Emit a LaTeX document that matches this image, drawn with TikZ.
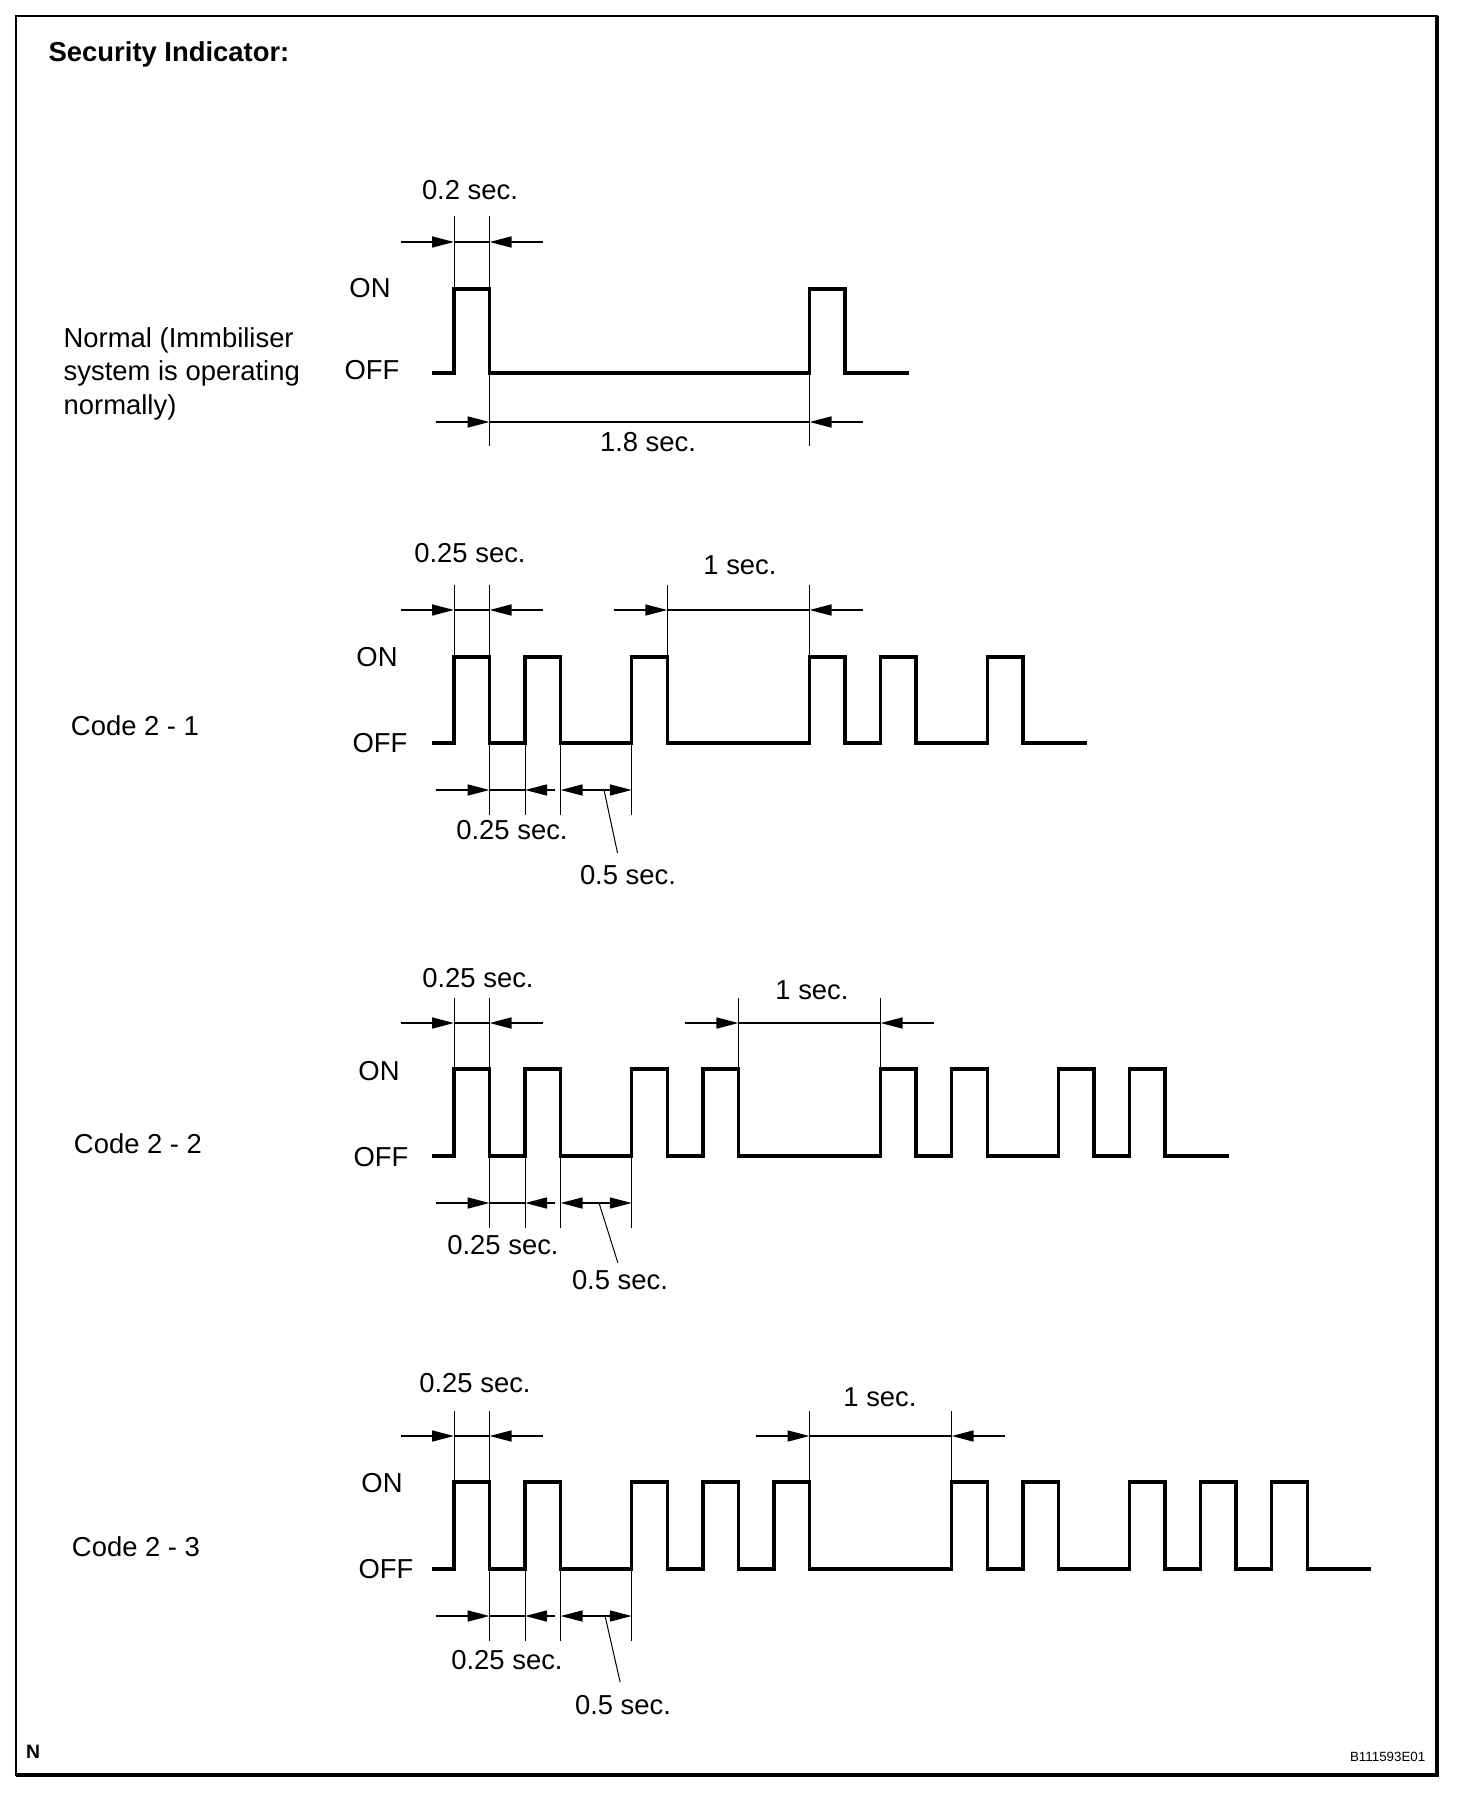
\documentclass[tikz,border=0pt]{standalone}
\usepackage{fontspec}
\setmainfont{Liberation Sans}
\usetikzlibrary{arrows.meta}
\begin{document}
\begin{tikzpicture}[x=0.1mm,y=-0.1mm]
\tikzstyle{every node}=[inner sep=0pt, font=\fontsize{7.8pt}{9.1pt}\selectfont]
\tikzstyle{wave}=[line width=0.34mm]
\tikzstyle{ext}=[line width=0.1mm]
\tikzstyle{dim}=[line width=0.16mm, >={Triangle[length=2.2mm,width=1.1mm]}]
\useasboundingbox (0,0) rectangle (1472,1794);
\draw[line width=0.25mm] (16,16) rectangle (1437,1775);
\draw[line width=0.33mm] (1437,16) -- (1437,1775) -- (16,1775);
\node[anchor=west, font=\fontsize{7.8pt}{9.1pt}\selectfont\bfseries] (title) at (48,54) {Security Indicator:};
\node[font=\fontsize{5.5pt}{6pt}\selectfont\bfseries] (n) at (33,1752) {N};
\node[anchor=east, font=\fontsize{3.8pt}{4pt}\selectfont] (figno) at (1426,1757) {B111593E01};

% Normal
\node[anchor=base west, align=left, font=\fontsize{7.8pt}{9.4pt}\selectfont] (normal) at (63,414) {Normal (Immbiliser\\system is operating\\normally)};
\node (on0) at (370,288) {ON};
\node (off0) at (372,370) {OFF};
\node (t0a) at (470,190) {0.2 sec.};
\node (t0b) at (648,442) {1.8 sec.};
\begin{scope}[shift={(454,373)}, x=3.555mm]
\draw[wave] (-0.61,0) -- (0,0) |- (1,-84) |- (10,0) |- (11,-84) |- (12.8,0);
\draw[ext] (0,-157) -- (0,0) (1,-157) -- (1,73) (10,0) -- (10,73);
\draw[dim,->] (-1.5,-131) -- (0,-131);
\draw[dim] (0,-131) -- (1,-131);
\draw[dim,->] (2.5,-131) -- (1,-131);
\draw[dim,->] (-0.5,49) -- (1,49);
\draw[dim] (1,49) -- (10,49);
\draw[dim,->] (11.5,49) -- (10,49);
\end{scope}

% Code 2 - 1
\node (code1) at (135,726) {Code 2 - 1};
\node (on1) at (377,657) {ON};
\node (off1) at (380,743) {OFF};
\node (t1a) at (470,553) {0.25 sec.};
\node (t1b) at (740,565) {1 sec.};
\node (t1c) at (512,830) {0.25 sec.};
\node (t1d) at (628,875) {0.5 sec.};
\begin{scope}[shift={(454,743)}, x=3.555mm]
\draw[wave] (-0.61,0) -- (0,0) |- (1,-86) |- (2,0) |- (3,-86) |- (5,0) |- (6,-86) |- (10,0) |- (11,-86) |- (12,0) |- (13,-86) |- (15,0) |- (16,-86) |- (17.8,0);
\draw[ext] (0,-158) -- (0,0) (1,-158) -- (1,72) (6,-158) -- (6,0) (10,-158) -- (10,0) (2,0) -- (2,72) (3,0) -- (3,72) (5,0) -- (5,72);
\draw[dim,->] (-1.5,-133) -- (0,-133);
\draw[dim] (0,-133) -- (1,-133);
\draw[dim,->] (2.5,-133) -- (1,-133);
\draw[dim,->] (4.5,-133) -- (6,-133);
\draw[dim] (6,-133) -- (10,-133);
\draw[dim,->] (11.5,-133) -- (10,-133);
\draw[dim,->] (-0.5,47) -- (1,47);
\draw[dim] (1,47) -- (2,47);
\draw[dim,->] (2.85,47) -- (2,47);
\draw[dim,<->] (3,47) -- (5,47);
\coordinate (lead1) at (4.22,47);
\end{scope}
\draw[ext, shorten >=1.2mm] (lead1) -- ([xshift=-0.8mm]t1d.north);

% Code 2 - 2
\node (code2) at (138,1144) {Code 2 - 2};
\node (on2) at (379,1071) {ON};
\node (off2) at (381,1157) {OFF};
\node (t2a) at (478,978) {0.25 sec.};
\node (t2b) at (812,990) {1 sec.};
\node (t2c) at (503,1245) {0.25 sec.};
\node (t2d) at (620,1280) {0.5 sec.};
\begin{scope}[shift={(454,1156)}, x=3.555mm]
\draw[wave] (-0.61,0) -- (0,0) |- (1,-87) |- (2,0) |- (3,-87) |- (5,0) |- (6,-87) |- (7,0) |- (8,-87) |- (12,0) |- (13,-87) |- (14,0) |- (15,-87) |- (17,0) |- (18,-87) |- (19,0) |- (20,-87) |- (21.8,0);
\draw[ext] (0,-158) -- (0,0) (1,-158) -- (1,72) (8,-158) -- (8,0) (12,-158) -- (12,0) (2,0) -- (2,72) (3,0) -- (3,72) (5,0) -- (5,72);
\draw[dim,->] (-1.5,-133) -- (0,-133);
\draw[dim] (0,-133) -- (1,-133);
\draw[dim,->] (2.5,-133) -- (1,-133);
\draw[dim,->] (6.5,-133) -- (8,-133);
\draw[dim] (8,-133) -- (12,-133);
\draw[dim,->] (13.5,-133) -- (12,-133);
\draw[dim,->] (-0.5,47) -- (1,47);
\draw[dim] (1,47) -- (2,47);
\draw[dim,->] (2.85,47) -- (2,47);
\draw[dim,<->] (3,47) -- (5,47);
\coordinate (lead2) at (4.08,47);
\end{scope}
\draw[ext, shorten >=0.7mm] (lead2) -- (t2d.north);

% Code 2 - 3
\node (code3) at (136,1547) {Code 2 - 3};
\node (on3) at (382,1483) {ON};
\node (off3) at (386,1569) {OFF};
\node (t3a) at (475,1383) {0.25 sec.};
\node (t3b) at (880,1397) {1 sec.};
\node (t3c) at (507,1660) {0.25 sec.};
\node (t3d) at (623,1705) {0.5 sec.};
\begin{scope}[shift={(454,1569)}, x=3.555mm]
\draw[wave] (-0.61,0) -- (0,0) |- (1,-87) |- (2,0) |- (3,-87) |- (5,0) |- (6,-87) |- (7,0) |- (8,-87) |- (9,0) |- (10,-87) |- (14,0) |- (15,-87) |- (16,0) |- (17,-87) |- (19,0) |- (20,-87) |- (21,0) |- (22,-87) |- (23,0) |- (24,-87) |- (25.8,0);
\draw[ext] (0,-158) -- (0,0) (1,-158) -- (1,72) (10,-158) -- (10,0) (14,-158) -- (14,0) (2,0) -- (2,72) (3,0) -- (3,72) (5,0) -- (5,72);
\draw[dim,->] (-1.5,-133) -- (0,-133);
\draw[dim] (0,-133) -- (1,-133);
\draw[dim,->] (2.5,-133) -- (1,-133);
\draw[dim,->] (8.5,-133) -- (10,-133);
\draw[dim] (10,-133) -- (14,-133);
\draw[dim,->] (15.5,-133) -- (14,-133);
\draw[dim,->] (-0.5,47) -- (1,47);
\draw[dim] (1,47) -- (2,47);
\draw[dim,->] (2.85,47) -- (2,47);
\draw[dim,<->] (3,47) -- (5,47);
\coordinate (lead3) at (4.25,47);
\end{scope}
\draw[ext, shorten >=1.3mm] (lead3) -- (t3d.north);
\end{tikzpicture}
\end{document}
